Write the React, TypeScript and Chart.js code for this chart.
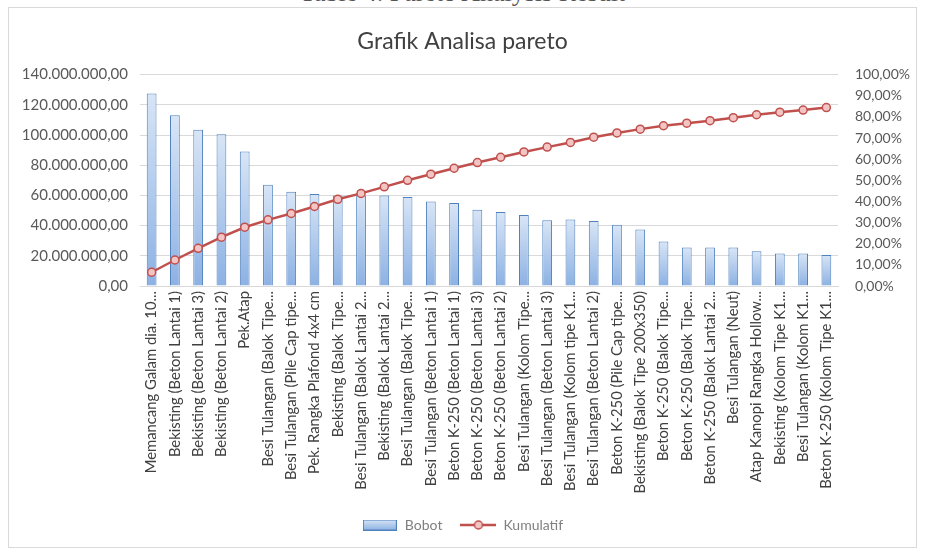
import { useEffect, useRef } from 'react';
import { Chart, registerables } from 'chart.js';

Chart.register(...registerables);

const headerText = 'Table 4. Pareto Analysis Result';
const chartTitle = 'Grafik Analisa pareto';
const seriesNames = ['Bobot', 'Kumulatif'];

const categories = [
  'Memancang Galam dia. 10...',
  'Bekisting (Beton Lantai 1)',
  'Bekisting (Beton Lantai 3)',
  'Bekisting (Beton Lantai 2)',
  'Pek.Atap',
  'Besi Tulangan (Balok Tipe...',
  'Besi Tulangan (Pile Cap tipe...',
  'Pek. Rangka Plafond 4x4 cm',
  'Bekisting (Balok Tipe...',
  'Besi Tulangan (Balok Lantai 2...',
  'Bekisting (Balok Lantai 2...',
  'Besi Tulangan (Balok Tipe...',
  'Besi Tulangan (Beton Lantai 1)',
  'Beton K-250 (Beton Lantai 1)',
  'Beton K-250 (Beton Lantai 3)',
  'Beton K-250 (Beton Lantai 2)',
  'Besi Tulangan (Kolom Tipe...',
  'Besi Tulangan (Beton Lantai 3)',
  'Besi Tulangan (Kolom tipe K1...',
  'Besi Tulangan (Beton Lantai 2)',
  'Beton K-250 (Pile Cap tipe...',
  'Bekisting (Balok Tipe 200x350)',
  'Beton K-250 (Balok Tipe...',
  'Beton K-250 (Balok Tipe...',
  'Beton K-250 (Balok Lantai 2...',
  'Besi Tulangan (Neut)',
  'Atap Kanopi Rangka Hollow...',
  'Bekisting (Kolom Tipe K1...',
  'Besi Tulangan (Kolom K1...',
  'Beton K-250 (Kolom Tipe K1...',
];

const bobot = [
  127500000, 113000000, 103500000, 100500000, 89000000, 67000000, 62500000, 61000000,
  60000000, 60000000, 60000000, 59000000, 56000000, 55000000, 50500000, 49000000,
  47000000, 43500000, 44000000, 43000000, 40500000, 37500000, 29500000, 25500000,
  25500000, 25500000, 23000000, 21500000, 21500000, 20500000,
];

const kumulatif = [
  0.065, 0.123, 0.178, 0.231, 0.278, 0.313, 0.343, 0.376, 0.41, 0.438,
  0.469, 0.5, 0.529, 0.557, 0.584, 0.609, 0.634, 0.657, 0.679, 0.704,
  0.724, 0.742, 0.758, 0.77, 0.782, 0.796, 0.81, 0.822, 0.832, 0.844,
];

const leftTickLabels = [
  '0,00', '20.000.000,00', '40.000.000,00', '60.000.000,00',
  '80.000.000,00', '100.000.000,00', '120.000.000,00', '140.000.000,00',
];
const rightTickLabels = [
  '0,00%', '10,00%', '20,00%', '30,00%', '40,00%', '50,00%',
  '60,00%', '70,00%', '80,00%', '90,00%', '100,00%',
];

const FONT = 'Lato, "Open Sans", sans-serif';
const BAR_BORDER = '#4f81bd';
const BAR_TOP = '#d8e5f6';
const BAR_BOTTOM = '#8cb1e3';
const LINE_COLOR = '#c0504d';
const POINT_FILL = '#f2c4c3';

function makeBarSwatch(): HTMLCanvasElement {
  const c = document.createElement('canvas');
  c.width = 34;
  c.height = 11;
  const g = c.getContext('2d')!;
  const grad = g.createLinearGradient(0, 0, 0, 11);
  grad.addColorStop(0, BAR_TOP);
  grad.addColorStop(1, BAR_BOTTOM);
  g.fillStyle = grad;
  g.fillRect(0.5, 0.5, 33, 10);
  g.strokeStyle = BAR_BORDER;
  g.lineWidth = 1;
  g.strokeRect(0.5, 0.5, 33, 10);
  return c;
}

function makeLineSwatch(): HTMLCanvasElement {
  const c = document.createElement('canvas');
  c.width = 36;
  c.height = 12;
  const g = c.getContext('2d')!;
  g.strokeStyle = LINE_COLOR;
  g.lineWidth = 2.5;
  g.beginPath();
  g.moveTo(0, 6);
  g.lineTo(36, 6);
  g.stroke();
  g.beginPath();
  g.arc(18, 6, 4, 0, Math.PI * 2);
  g.fillStyle = POINT_FILL;
  g.fill();
  g.lineWidth = 1.5;
  g.stroke();
  return c;
}

export default function App() {
  const canvasRef = useRef<HTMLCanvasElement | null>(null);

  useEffect(() => {
    if (!canvasRef.current) return;
    const barSwatch = makeBarSwatch();
    const lineSwatch = makeLineSwatch();

    const chart = new Chart(canvasRef.current, {
      type: 'bar',
      data: {
        labels: categories,
        datasets: [
          {
            type: 'bar',
            label: seriesNames[0],
            data: bobot,
            yAxisID: 'y',
            order: 1,
            backgroundColor: (ctx: any) => {
              const chart = ctx.chart;
              const ys = chart.scales && chart.scales.y;
              if (!ys || ctx.type !== 'data') return '#b9cde5';
              const top = ys.getPixelForValue(ctx.raw);
              const bottom = ys.getPixelForValue(0);
              if (!isFinite(top) || !isFinite(bottom) || bottom - top < 1) return '#b9cde5';
              const g = chart.ctx.createLinearGradient(0, top, 0, bottom);
              g.addColorStop(0, BAR_TOP);
              g.addColorStop(1, BAR_BOTTOM);
              return g;
            },
            borderColor: BAR_BORDER,
            borderWidth: 1,
            barPercentage: 0.42,
            categoryPercentage: 1,
          },
          {
            type: 'line',
            label: seriesNames[1],
            data: kumulatif,
            yAxisID: 'y1',
            order: 0,
            borderColor: LINE_COLOR,
            borderWidth: 2.5,
            pointRadius: 4,
            pointBackgroundColor: POINT_FILL,
            pointBorderColor: LINE_COLOR,
            pointBorderWidth: 1.5,
            tension: 0,
          },
        ] as any,
      },
      options: {
        responsive: false,
        animation: false,
        layout: { padding: { left: 0, right: 0, top: 0, bottom: 5 } },
        plugins: {
          title: {
            display: true,
            text: chartTitle,
            color: '#404040',
            font: { family: FONT, size: 23, weight: 'normal' },
            padding: { top: 20, bottom: 19 },
          },
          legend: {
            display: true,
            position: 'bottom',
            labels: {
              usePointStyle: true,
              pointStyleWidth: 36,
              color: '#7f7f7f',
              font: { family: FONT, size: 14 },
              padding: 18,
              generateLabels: () => [
                {
                  text: seriesNames[0],
                  pointStyle: barSwatch,
                  fillStyle: '#b9cde5',
                  strokeStyle: BAR_BORDER,
                  lineWidth: 0,
                  hidden: false,
                  datasetIndex: 0,
                  fontColor: '#7f7f7f',
                } as any,
                {
                  text: seriesNames[1],
                  pointStyle: lineSwatch,
                  fillStyle: POINT_FILL,
                  strokeStyle: LINE_COLOR,
                  lineWidth: 0,
                  hidden: false,
                  datasetIndex: 1,
                  fontColor: '#7f7f7f',
                } as any,
              ],
            },
          },
          tooltip: { enabled: false },
        },
        scales: {
          x: {
            grid: { display: false, drawTicks: false },
            border: { display: true, color: '#d9d9d9' },
            ticks: {
              autoSkip: false,
              maxRotation: 90,
              minRotation: 90,
              padding: 5,
              color: '#404040',
              font: { family: FONT, size: 14.8 },
            },
            afterFit: (scale: any) => {
              scale.height = 214;
            },
          },
          y: {
            position: 'left',
            min: 0,
            max: 140000000,
            grid: { color: '#d9d9d9', drawTicks: false },
            border: { display: false },
            ticks: {
              stepSize: 20000000,
              padding: 12,
              color: '#595959',
              font: { family: FONT, size: 15 },
              callback: (_v: any, i: number) => leftTickLabels[i],
            },
            afterFit: (scale: any) => {
              scale.width = 131;
            },
          },
          y1: {
            position: 'right',
            min: 0,
            max: 1,
            grid: { display: false, drawTicks: false },
            border: { display: false },
            ticks: {
              stepSize: 0.1,
              padding: 17,
              color: '#595959',
              font: { family: FONT, size: 14 },
              callback: (_v: any, i: number) => rightTickLabels[i],
            },
            afterFit: (scale: any) => {
              scale.width = 78;
            },
          },
        },
      } as any,
    });
    return () => chart.destroy();
  }, []);

  return (
    <div
      style={{
        position: 'fixed',
        left: 0,
        top: 0,
        width: 925,
        height: 550,
        background: '#ffffff',
        overflow: 'hidden',
      }}
    >
      <div
        style={{
          position: 'absolute',
          left: 0,
          top: 0,
          width: 925,
          height: 7,
          overflow: 'hidden',
        }}
      >
        <div
          style={{
            position: 'absolute',
            left: 0,
            top: -20,
            width: 925,
            textAlign: 'center',
            fontFamily: '"Liberation Serif", serif',
            fontSize: 26,
            lineHeight: '26px',
            color: '#555',
            whiteSpace: 'nowrap',
          }}
        >
          {headerText}
        </div>
      </div>
      <div
        style={{
          position: 'absolute',
          left: 8,
          top: 7,
          width: 909,
          height: 541,
          border: '1px solid #d9d9d9',
          boxSizing: 'border-box',
          background: '#fff',
        }}
      >
        <canvas ref={canvasRef} width={907} height={539} style={{ display: 'block' }} />
      </div>
    </div>
  );
}
